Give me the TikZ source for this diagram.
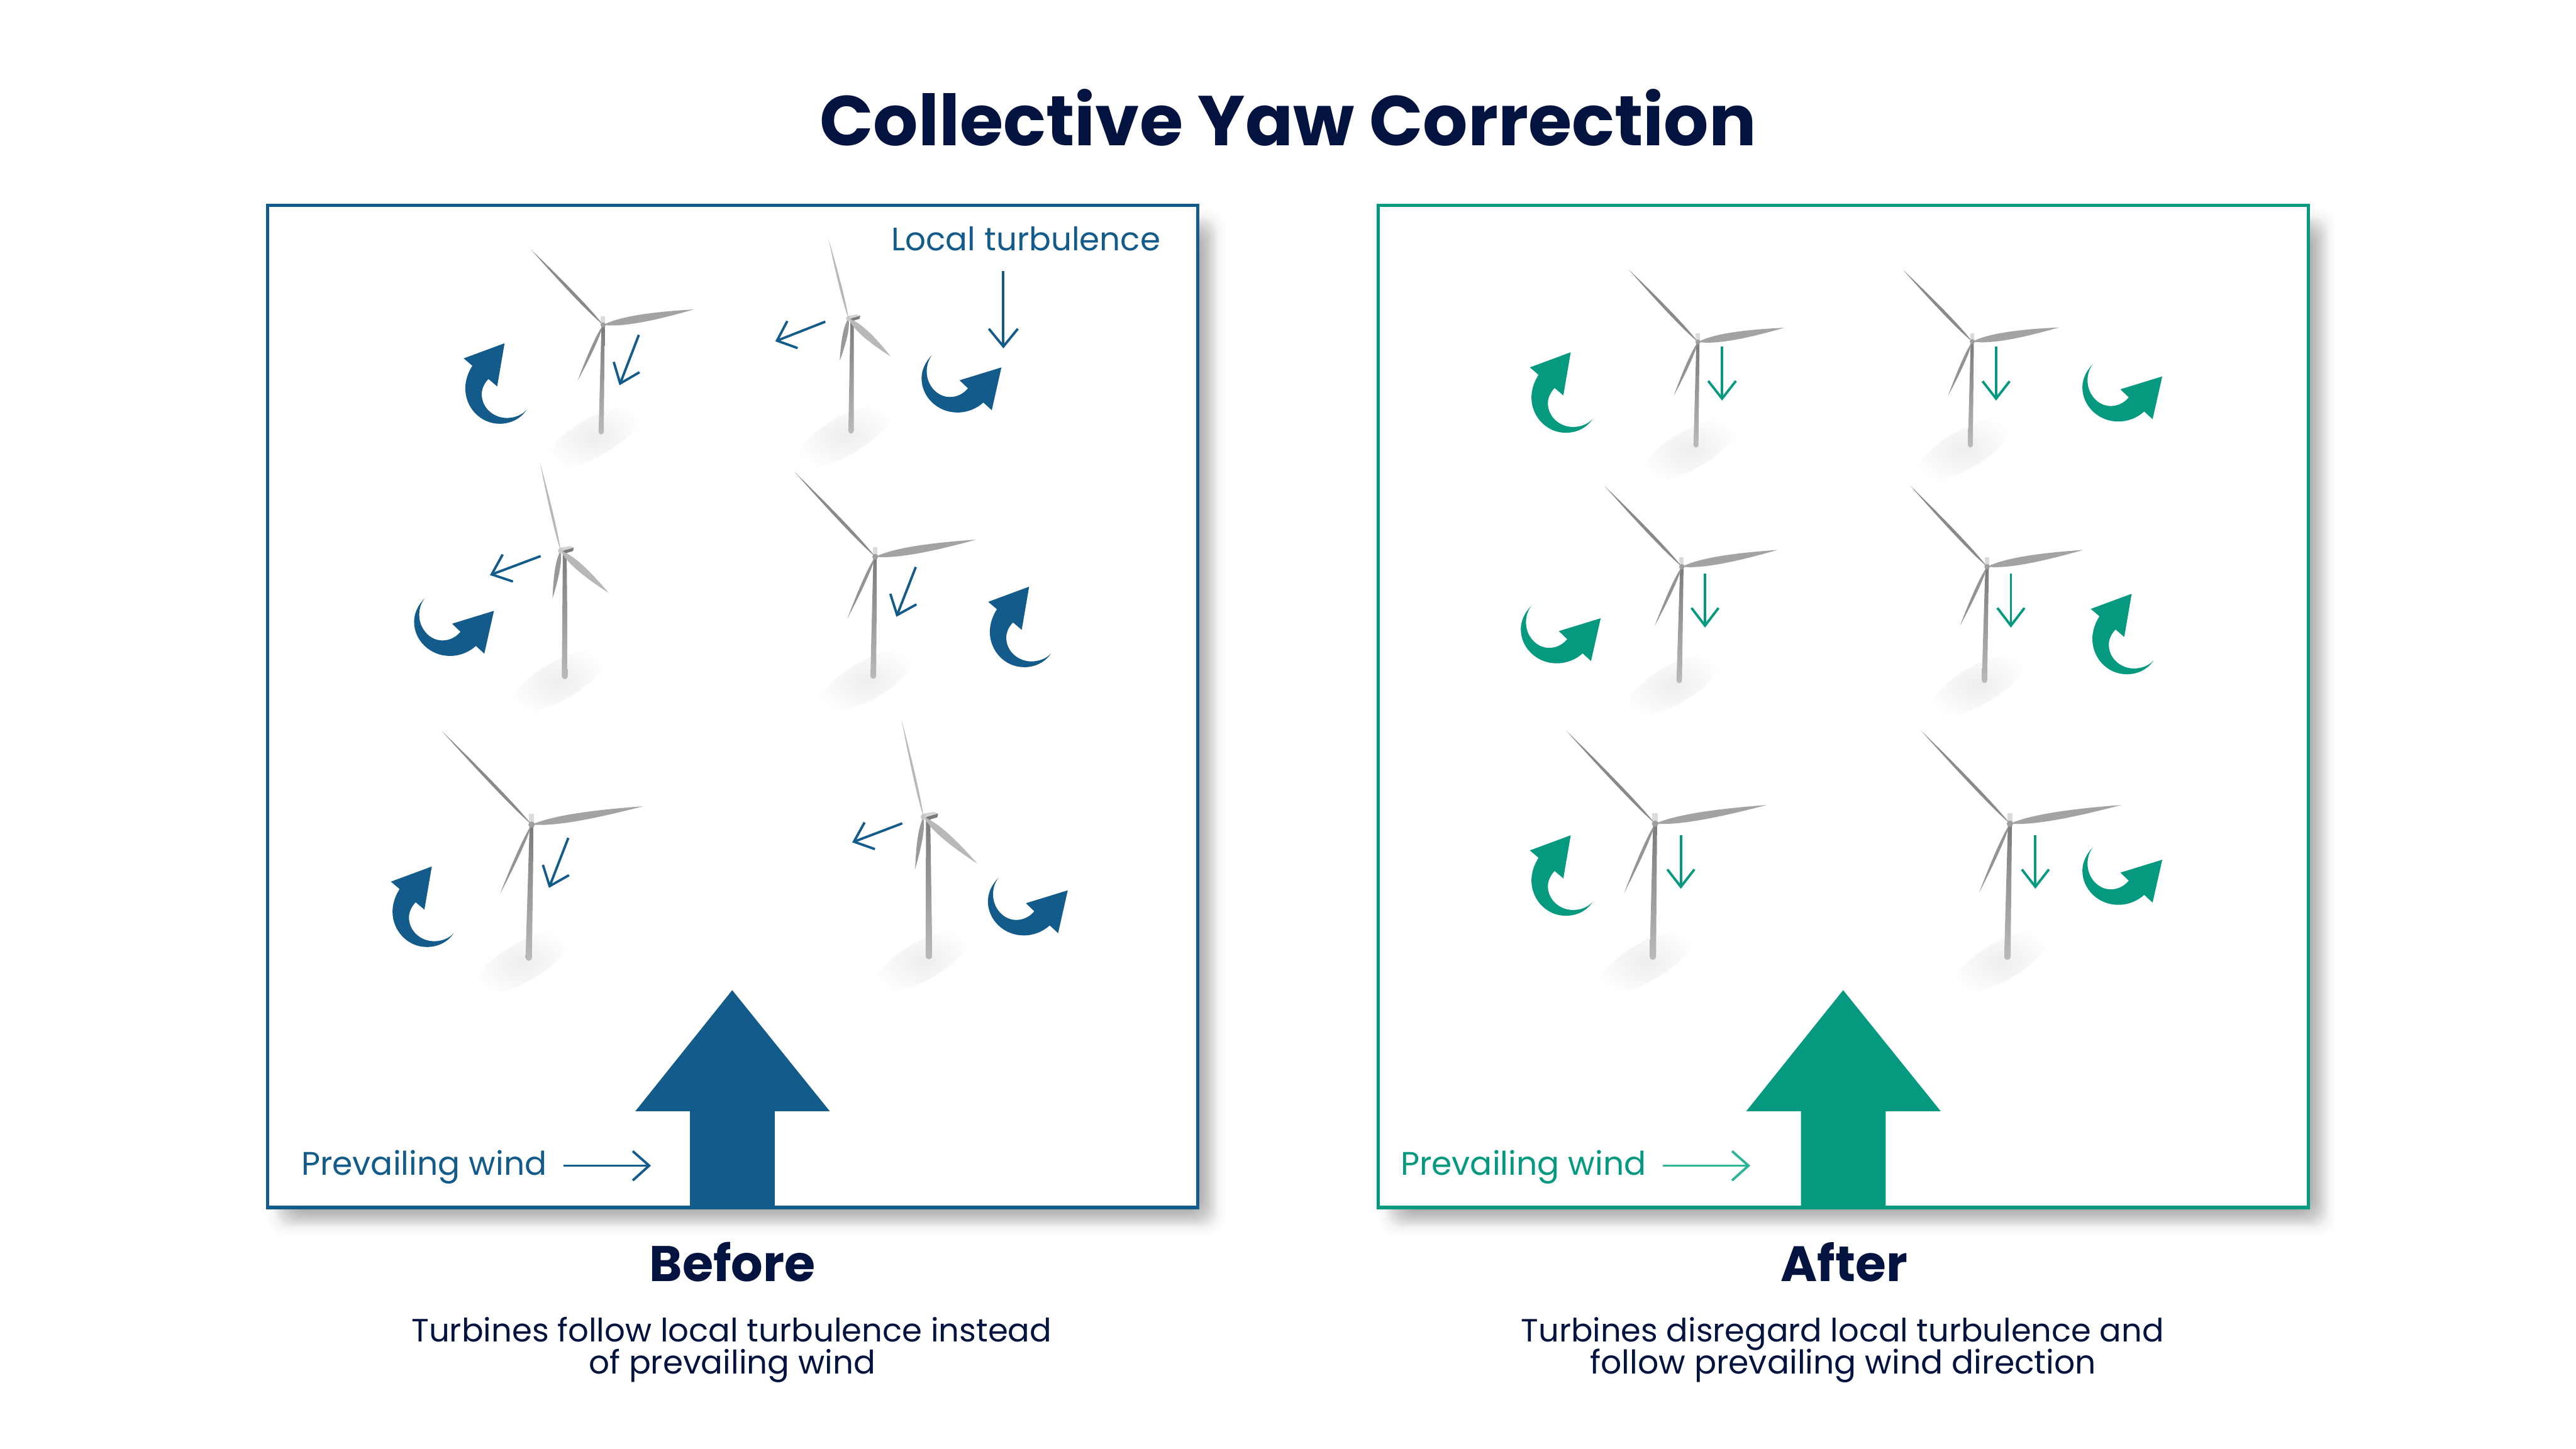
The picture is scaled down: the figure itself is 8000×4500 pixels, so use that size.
\documentclass[tikz,border=0pt]{standalone}
\usepackage{fontspec}
\usetikzlibrary{calc}
\setmainfont{Poppins}
\definecolor{blueC}{HTML}{125B8A}
\definecolor{greenC}{HTML}{059A80}
\definecolor{greenL}{HTML}{2DB598}
\definecolor{navyC}{HTML}{03133F}
\tikzset{
  thinarrow/.style={line width=0.075cm,miter limit=10,line cap=butt},
  txt/.style={anchor=base,inner sep=0pt,outer sep=0pt},
  panel/.style={line width=0.10cm,fill=white},
}
\newcommand\fit[2]{\resizebox{#1cm}{!}{\fontsize{40}{48}\selectfont #2}}
% blade: hub, tip, half width (cm), colour
\newcommand\blade[4]{%
  \fill[#4] (#1) .. controls ($(#1)!.18!(#2)!#3cm!90:(#2)$) and ($(#1)!.5!(#2)!#3cm!90:(#2)$) .. (#2)
   .. controls ($(#1)!.5!(#2)!#3cm!-90:(#2)$) and ($(#1)!.18!(#2)!#3cm!-90:(#2)$) .. cycle;}
% tower: hub x offset, bottom, scale
\newcommand\tower[3]{%
  \coordinate (tw) at (#2);
  \shade[top color=black!52,bottom color=black!27]
    ($(h)+(#1,0)+(-5*#3,0)$) -- ($(h)+(#1,0)+(5*#3,0)$) -- ($(tw)+(8*#3,0)$)
    arc[start angle=0,end angle=-180,x radius=8*#3,y radius=-8*#3] -- cycle;}
% front-facing turbine: hub, tip1, tip2, tip3, bottom, scale
\newcommand\turbF[6]{%
  \coordinate (h) at (#1);
  \coordinate (ta) at (#2); \coordinate (tb) at (#3); \coordinate (tc) at (#4);
  \tower{0}{#5}{#6}
  \fill[black!14,shift={(h)},scale=#6] (-7,-27) rectangle (6,-4);
  \blade{h}{ta}{0.065}{black!46}
  \blade{h}{tb}{0.16}{black!36}
  \blade{h}{tc}{0.065}{black!42}
  \fill[black!38] (h) circle[radius=8*#6];}
% side-facing turbine
\newcommand\turbS[6]{%
  \coordinate (h) at (#1);
  \coordinate (ta) at (#2); \coordinate (tb) at (#3); \coordinate (tc) at (#4);
  \tower{11*#6}{#5}{#6}
  \begin{scope}[shift={(h)},scale=#6]
    \fill[black!52] (8,-3) -- (35,-8) -- (33,1) -- (16,6) -- (3,6) -- cycle;
    \fill[black!17] (0,-8) -- (25,-12) -- (35,-8) -- (10,-1) -- (2,3) -- cycle;
  \end{scope}
  \blade{h}{ta}{0.05}{black!28}
  \blade{h}{tb}{0.15}{black!28}
  \blade{h}{tc}{0.10}{black!40}
  \fill[black!22] (h) circle[radius=7*#6];}
% curved arrows: tip, colour
\newcommand\curvA[3]{%
  \begin{scope}[shift={(#1,#2)}]
  \fill[#3] (0,0) -- (-23,134) -- (-50,111)
   .. controls (-63,124) and (-71,142) .. (-71,158)
   .. controls (-71,200) and (-35,232) .. (7,232)
   .. controls (33,232) and (55,222) .. (68,207)
   .. controls (50,235) and (18,250) .. (-15,250)
   .. controls (-75,250) and (-122,200) .. (-122,140)
   .. controls (-122,115) and (-113,90) .. (-100,70)
   -- (-127,47) -- cycle;
  \end{scope}}
\newcommand\curvB[3]{%
  \begin{scope}[shift={(#1,#2)}]
  \fill[#3] (0,0) -- (-130,40) -- (-104,65)
   .. controls (-118,82) and (-138,92) .. (-160,92)
   .. controls (-200,92) and (-232,55) .. (-232,13)
   .. controls (-232,-8) and (-226,-25) .. (-215,-39)
   .. controls (-236,-18) and (-248,8) .. (-248,34)
   .. controls (-248,92) and (-198,140) .. (-137,140)
   .. controls (-105,140) and (-77,128) .. (-56,109)
   -- (-30,133) -- cycle;
  \end{scope}}
% thin arrow: tail, tip, barb, barb, colour
\newcommand\thin[5]{%
  \coordinate (aa) at (#1); \coordinate (ab) at (#2); \coordinate (ac) at (#3); \coordinate (ad) at (#4);
  \draw[thinarrow,#5] (aa) -- (ab);
  \draw[thinarrow,#5] (ac) -- (ab) -- (ad);}
\newcommand\bigarrow[2]{%
  \begin{scope}[shift={(#1,0)}]
  \fill[#2] (0,3075) -- (303,3451) -- (132,3451) -- (132,3755) -- (-131,3755) -- (-131,3451) -- (-301,3451) -- cycle;
  \end{scope}}
\newcommand\panelbox[2]{%
  \foreach \i in {0,...,19}{
    \pgfmathsetmacro\op{\i<5?0.008:0.025}
    \fill[black,opacity=\op,rounded corners=0.5cm]
      (#1+4.5*\i,650+4.5*\i) rectangle (#1+2888+85-4.5*\i,3750+85-4.5*\i);
  }
  \draw[panel,draw=#2] (#1,637) rectangle (#1+2888,3750);}
\begin{document}
\begin{tikzpicture}[x=0.01cm,y=-0.01cm]
\useasboundingbox (0,0) rectangle (8000,4500);
\fill[white] (0,0) rectangle (8000,4500);
\node[txt,text=navyC] (title) at (4000,452) {\fit{29.08}{\bfseries Collective Yaw Correction}};
% panels
\panelbox{831}{blueC}
\panelbox{4281}{greenC}
% ground shadows
\foreach \gx/\gy in {1867/1341,2643/1338,1754/2100,2712/2099,1642/2974,2885/2969,
                5267/1382,6119/1382,5215/2113,6163/2113,5133/2971,6234/2971}{
  \shade[inner color=black!7,outer color=white] (\gx-20,\gy+15) ellipse[x radius=170,y radius=60,rotate=30];
}
% LEFT turbines
\turbF{1873,1009}{1648,774}{2155,961}{1794,1182}{1867,1341}{1}
\turbS{2635,989}{2573,742}{2766,1107}{2608,1120}{2643,1338}{1.05}
\turbS{1741,1710}{1677,1437}{1890,1841}{1716,1858}{1754,2100}{1.17}
\turbF{2718,1729}{2469,1467}{3031,1676}{2632,1920}{2712,2099}{1.12}
\turbF{1651,2561}{1372,2270}{1997,2504}{1553,2776}{1642,2974}{1.24}
\turbS{2868,2537}{2799,2232}{3035,2682}{2842,2699}{2885,2969}{1.3}
% RIGHT turbines
\turbF{5273,1062}{5058,837}{5541,1018}{5198,1229}{5267,1382}{.96}
\turbF{6125,1061}{5910,838}{6394,1017}{6050,1229}{6119,1382}{.96}
\turbF{5223,1760}{4982,1508}{5520,1708}{5139,1943}{5215,2113}{1.06}
\turbF{6171,1760}{5932,1508}{6469,1708}{6087,1943}{6163,2113}{1.06}
\turbF{5140,2558}{4863,2268}{5487,2500}{5044,2773}{5133,2971}{1.24}
\turbF{6242,2558}{5965,2268}{6588,2500}{6146,2773}{6234,2971}{1.24}
% curved arrows
\curvA{1567}{1066}{blueC}
\curvB{3110}{1141}{blueC}
\curvB{1534}{1897}{blueC}
\curvA{3196}{1822}{blueC}
\curvA{1341}{2691}{blueC}
\curvB{3316}{2765}{blueC}
\curvA{4878}{1094}{greenC}
\curvB{6715}{1169}{greenC}
\curvB{4971}{1920}{greenC}
\curvA{6620}{1844}{greenC}
\curvA{4878}{2594}{greenC}
\curvB{6715}{2670}{greenC}
% small arrows left
\thin{1984,1040}{1926,1191}{1906,1124}{1986,1156}{blueC}
\thin{2563,999}{2413,1058}{2445,997}{2477,1081}{blueC}
\thin{1679,1727}{1527,1784}{1561,1722}{1593,1806}{blueC}
\thin{2844,1761}{2786,1910}{2765,1844}{2846,1877}{blueC}
\thin{1765,2602}{1707,2752}{1686,2686}{1767,2718}{blueC}
\thin{2802,2557}{2652,2614}{2685,2554}{2717,2637}{blueC}
\thin{3116,842}{3116,1076}{3071,1021}{3161,1021}{blueC}
% small arrows right
\thin{5348,1077}{5348,1238}{5305,1183}{5391,1183}{greenC}
\thin{6199,1077}{6199,1238}{6157,1184}{6241,1184}{greenC}
\thin{5295,1781}{5295,1943}{5253,1888}{5337,1888}{greenC}
\thin{6245,1781}{6245,1943}{6203,1888}{6287,1888}{greenC}
\thin{5220,2593}{5220,2754}{5178,2700}{5262,2700}{greenC}
\thin{6321,2593}{6321,2754}{6279,2700}{6363,2700}{greenC}
% big arrows
\bigarrow{2274}{blueC}
\bigarrow{5724}{greenC}
% wind labels
\node[txt,text=blueC] (ltext) at (3186,779) {\fit{8.35}{Local turbulence}};
\node[txt,text=blueC] (pw1) at (1317,3649) {\fit{7.62}{Prevailing wind}};
\node[txt,text=greenC] (pw2) at (4731,3649) {\fit{7.62}{Prevailing wind}};
\thin{1750,3620}{2016,3620}{1965,3575}{1965,3666}{blueC}
\thin{5164,3620}{5430,3620}{5379,3575}{5379,3666}{greenL}
% captions
\node[txt,text=navyC] (bef) at (2275,3979) {\fit{5.15}{\bfseries Before}};
\node[txt,text=navyC] (aft) at (5727,3979) {\fit{3.93}{\bfseries After}};
\node[txt,text=navyC] (b1) at (2272,4166) {\fit{19.87}{Turbines follow local turbulence instead}};
\node[txt,text=navyC] (b2) at (2274,4266) {\fit{8.9}{of prevailing wind}};
\node[txt,text=navyC] (a1) at (5722,4166) {\fit{19.95}{Turbines disregard local turbulence and}};
\node[txt,text=navyC] (a2) at (5724,4266) {\fit{15.71}{follow prevailing wind direction}};
\end{tikzpicture}
\end{document}
